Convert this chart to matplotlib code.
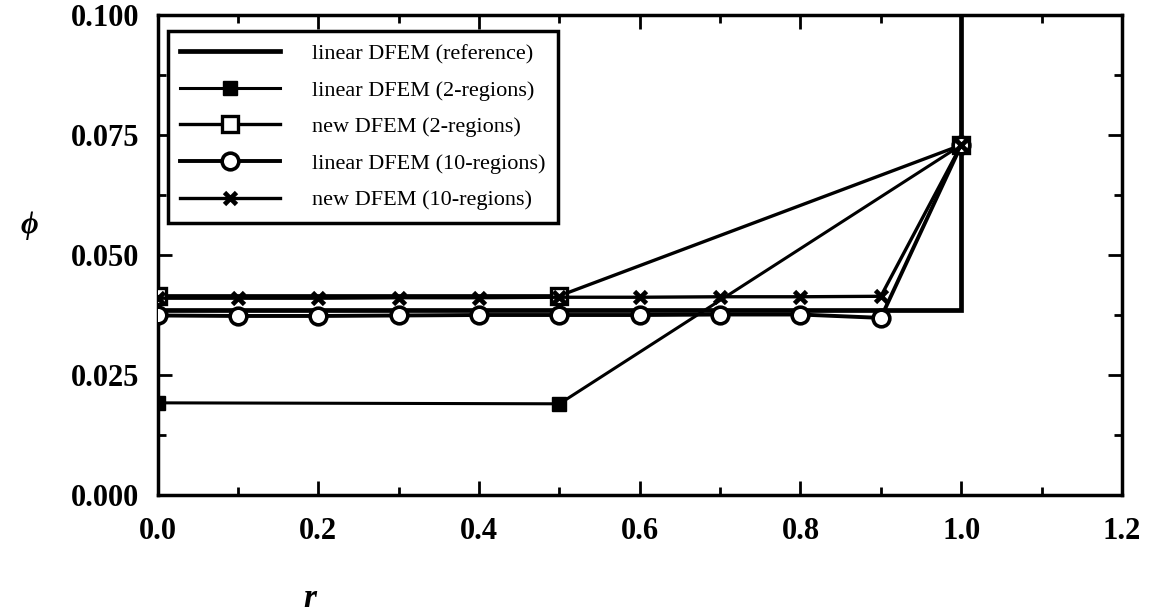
import matplotlib
matplotlib.use('Agg')
import matplotlib.pyplot as plt
from matplotlib.ticker import MultipleLocator, FormatStrFormatter

plt.rcParams['font.family'] = ['Liberation Serif', 'DejaVu Serif']

# donnees
x_ref = [0.0, 1.0, 1.0]
y_ref = [0.0385, 0.0385, 0.12]

x_2reg = [0.0, 0.5, 1.0]
lin_2reg = [0.0192, 0.0190, 0.0729]
new_2reg = [0.0415, 0.0415, 0.0729]

x_10reg = [0.0, 0.1, 0.2, 0.3, 0.4, 0.5, 0.6, 0.7, 0.8, 0.9, 1.0]
lin_10reg = [0.0374, 0.0373, 0.0373, 0.0374, 0.0375, 0.0375, 0.0375, 0.0376, 0.0376, 0.0369, 0.0729]
new_10reg = [0.0410, 0.0410, 0.0410, 0.0411, 0.0411, 0.0412, 0.0412, 0.0413, 0.0413, 0.0414, 0.0729]

labels = ['linear DFEM (reference)', 'linear DFEM (2-regions)', 'new DFEM (2-regions)',
          'linear DFEM (10-regions)', 'new DFEM (10-regions)']

fig = plt.figure(figsize=(11.59, 6.13), dpi=100)
ax = fig.add_axes([0.136, 0.1925, 0.832, 0.783])

ax.plot(x_ref, y_ref, color='black', lw=3.4, solid_joinstyle='miter', label=labels[0], zorder=2)
ax.plot(x_2reg, lin_2reg, color='black', lw=2.2, marker='s', ms=10, mfc='black', mec='black', label=labels[1], zorder=3)
ax.plot(x_2reg, new_2reg, color='black', lw=2.4, marker='s', ms=11, mfc='white', mec='black', mew=2.4, label=labels[2], zorder=3)
ax.plot(x_10reg, lin_10reg, color='black', lw=2.8, marker='o', ms=12, mfc='white', mec='black', mew=2.6, label=labels[3], zorder=4)
ax.plot(x_10reg, new_10reg, color='black', lw=2.4, marker='x', ms=9, mew=3.4, label=labels[4], zorder=5)

ax.set_xlim(0.0, 1.2)
ax.set_ylim(0.0, 0.1)
ax.xaxis.set_major_locator(MultipleLocator(0.2))
ax.xaxis.set_minor_locator(MultipleLocator(0.1))
ax.yaxis.set_major_locator(MultipleLocator(0.025))
ax.yaxis.set_minor_locator(MultipleLocator(0.0125))
ax.xaxis.set_major_formatter(FormatStrFormatter('%.1f'))
ax.yaxis.set_major_formatter(FormatStrFormatter('%.3f'))

ax.tick_params(which='both', direction='in', top=True, right=True, width=2, labelsize=22, colors='black')
ax.tick_params(which='major', length=10)
ax.tick_params(which='minor', length=6)
ax.tick_params(axis='x', which='major', pad=16)
ax.tick_params(axis='y', which='major', pad=13)
for lab in ax.get_xticklabels() + ax.get_yticklabels():
    lab.set_fontweight('bold')
for sp in ax.spines.values():
    sp.set_linewidth(2.5)

ax.set_ylabel('ϕ', rotation=0, fontsize=22, fontweight='bold', fontstyle='italic', va='center')
ax.yaxis.set_label_coords(-0.133, 0.5625)
ax.set_xlabel('r', fontsize=24, fontweight='bold', fontstyle='italic', va='center')
ax.xaxis.set_label_coords(0.158, -0.215)

leg = ax.legend(loc='upper left', bbox_to_anchor=(0.0104, 0.966), borderaxespad=0,
                fancybox=False, edgecolor='black', framealpha=1, fontsize=16,
                handlelength=4.5, handletextpad=1.45, labelspacing=0.72, borderpad=0.55)
leg.get_frame().set_linewidth(2.5)

fig.savefig('out.png', dpi=100)
